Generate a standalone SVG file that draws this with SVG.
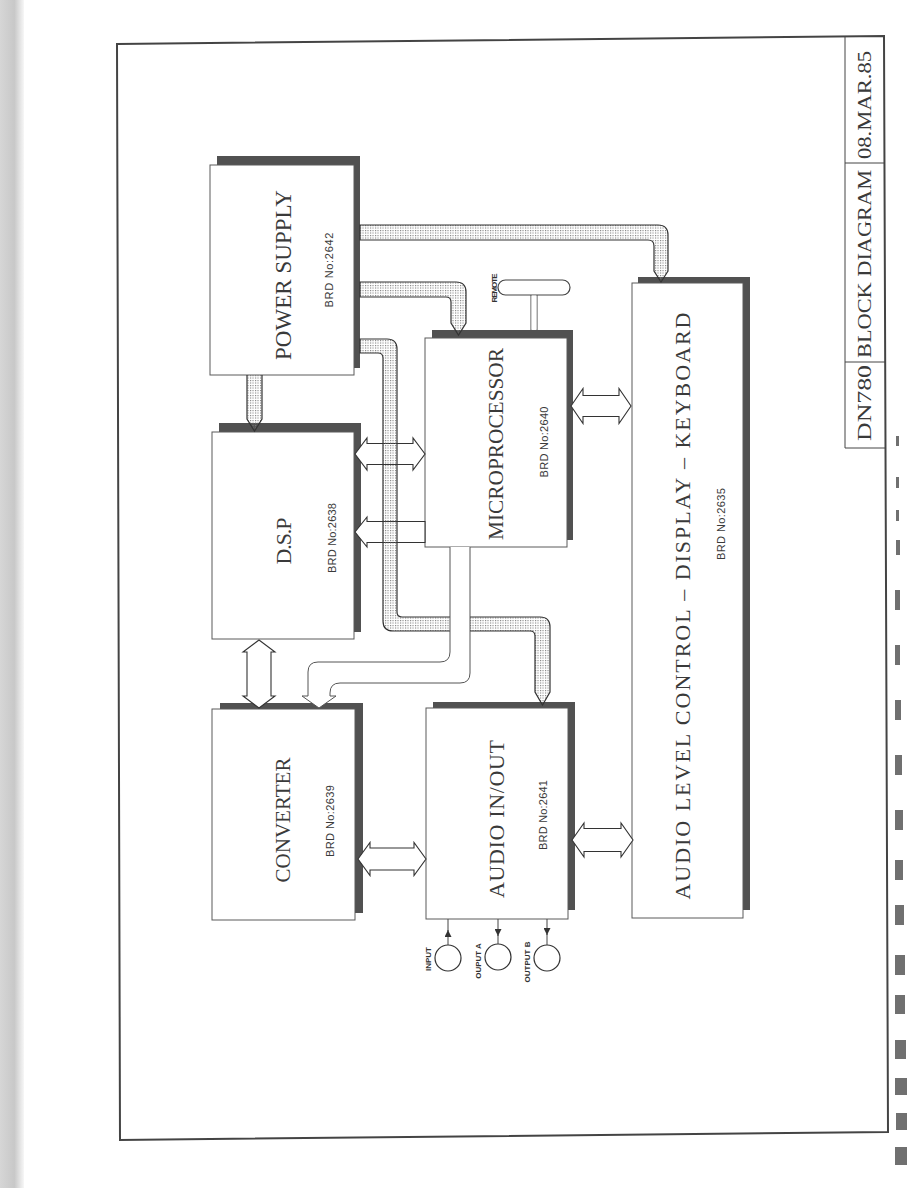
<svg xmlns="http://www.w3.org/2000/svg" width="918" height="1188" viewBox="0 0 918 1188">
<style>
  .shadow{fill:#515151}
  .box{fill:#fff;stroke:#5a5a5a;stroke-width:1}
  .ttl{font-family:"Liberation Serif","Times New Roman",serif;font-size:22px;fill:#3a3a3a;text-anchor:middle}
  .brd{font-family:"Liberation Sans",Arial,sans-serif;font-size:11px;fill:#3a3a3a;text-anchor:middle}
  .small{font-family:"Liberation Sans",Arial,sans-serif;font-size:8px;font-weight:bold;fill:#333;text-anchor:middle}
  .tb{font-family:"Liberation Serif","Times New Roman",serif;font-size:18px;fill:#3a3a3a;text-anchor:middle}
  .band{fill:url(#stip);stroke:#333;stroke-width:1.2}
  .hollow{fill:#fff;stroke:#333;stroke-width:1.1}
  .thin{fill:none;stroke:#444;stroke-width:1}
  .frame{fill:none;stroke:#444;stroke-width:2}
  .mark{fill:#707070}
</style>
<defs>
  <pattern id="stip" width="2.5" height="2.5" patternUnits="userSpaceOnUse">
    <rect width="1.1" height="1.1" fill="#7a7a7a"/>
  </pattern>
  <marker id="tri" viewBox="0 0 10 10" refX="10" refY="5" markerWidth="7" markerHeight="7" orient="auto" markerUnits="userSpaceOnUse">
    <path d="M0,0 L10,5 L0,10 Z" fill="#333"/>
  </marker>
  <linearGradient id="edge" x1="0" x2="1" y1="0" y2="0">
    <stop offset="0" stop-color="#d6d6d6"/>
    <stop offset="0.6" stop-color="#c8c8c8"/>
    <stop offset="1" stop-color="#f7f7f7"/>
  </linearGradient>
</defs>

<rect width="918" height="1188" fill="#fff"/>

<g id="page-artifacts">
  <rect x="0" y="0" width="24" height="1188" fill="url(#edge)"/>
  <rect x="896" y="436" width="3" height="10" class="mark"/>
  <rect x="896" y="477" width="3" height="11" class="mark"/>
  <rect x="896" y="510" width="3" height="11" class="mark"/>
  <rect x="896" y="540" width="4" height="15" class="mark"/>
  <rect x="895" y="590" width="5" height="20" class="mark"/>
  <rect x="895" y="645" width="5" height="20" class="mark"/>
  <rect x="895" y="700" width="6" height="20" class="mark"/>
  <rect x="895" y="755" width="7" height="20" class="mark"/>
  <rect x="895" y="810" width="8" height="20" class="mark"/>
  <rect x="895" y="860" width="8" height="20" class="mark"/>
  <rect x="895" y="905" width="9" height="20" class="mark"/>
  <rect x="895" y="955" width="10" height="20" class="mark"/>
  <rect x="895" y="995" width="10" height="19" class="mark"/>
  <rect x="895" y="1040" width="11" height="19" class="mark"/>
  <rect x="895" y="1078" width="12" height="17" class="mark"/>
  <rect x="896" y="1113" width="11" height="17" class="mark"/>
  <rect x="895" y="1147" width="12" height="18" class="mark"/>
</g>

<g id="frame">
  <path class="frame" d="M117,44 L884,36 L888,1132 L120,1140 Z"/>
</g>

<g id="title-block">
  <path class="thin" d="M845,37 V448 H885 M845,163 H884 M845,362 H885" stroke-width="1.4"/>
  <text class="tb" transform="translate(871,105) rotate(-90)" textLength="108" lengthAdjust="spacingAndGlyphs">08.MAR.85</text>
  <text class="tb" transform="translate(871,264) rotate(-90)" textLength="188" lengthAdjust="spacingAndGlyphs">BLOCK DIAGRAM</text>
  <text class="tb" transform="translate(871,403) rotate(-90)" textLength="76" lengthAdjust="spacingAndGlyphs">DN780</text>
</g>

<g id="power-supply">
  <rect class="shadow" x="217" y="156" width="143" height="212"/>
  <rect class="box" x="210" y="165" width="144" height="210"/>
  <text class="ttl" transform="translate(291,275) rotate(-90)" textLength="170" style="font-size:23px">POWER SUPPLY</text>
  <text class="brd" transform="translate(333,270) rotate(-90)" textLength="75">BRD No:2642</text>
</g>

<g id="dsp">
  <rect class="shadow" x="219" y="423" width="142" height="209"/>
  <rect class="box" x="212" y="432" width="142" height="207"/>
  <text class="ttl" transform="translate(291,541) rotate(-90)" textLength="47">D.S.P</text>
  <text class="brd" transform="translate(336,538) rotate(-90)" textLength="70">BRD No:2638</text>
</g>

<g id="microprocessor">
  <rect class="shadow" x="432" y="330" width="141" height="210"/>
  <rect class="box" x="425" y="338" width="142" height="209"/>
  <text class="ttl" transform="translate(503,444) rotate(-90)" textLength="192" lengthAdjust="spacingAndGlyphs">MICROPROCESSOR</text>
  <text class="brd" transform="translate(548,442) rotate(-90)" textLength="71">BRD No:2640</text>
</g>

<g id="converter">
  <rect class="shadow" x="220" y="703" width="143" height="210"/>
  <rect class="box" x="212" y="709" width="143" height="211"/>
  <text class="ttl" transform="translate(290,820) rotate(-90)" textLength="125" lengthAdjust="spacingAndGlyphs">CONVERTER</text>
  <text class="brd" transform="translate(334,821) rotate(-90)" textLength="72">BRD No:2639</text>
</g>

<g id="audio-in-out">
  <rect class="shadow" x="433" y="702" width="142" height="208"/>
  <rect class="box" x="426" y="708" width="142" height="211"/>
  <text class="ttl" transform="translate(504,819) rotate(-90)" textLength="158">AUDIO IN/OUT</text>
  <text class="brd" transform="translate(547,815) rotate(-90)" textLength="70">BRD No:2641</text>
</g>

<g id="audio-level-control">
  <rect class="shadow" x="638" y="277" width="112" height="633"/>
  <rect class="box" x="632" y="283" width="111" height="635"/>
  <text class="ttl" transform="translate(690,606) rotate(-90)" textLength="587">AUDIO LEVEL CONTROL  –  DISPLAY  –  KEYBOARD</text>
  <text class="brd" transform="translate(725,524) rotate(-90)" textLength="72">BRD No:2635</text>
</g>

<g id="remote">
  <rect x="498" y="280" width="72" height="15" rx="7.5" fill="#fff" stroke="#444" stroke-width="1.2"/>
  <text class="small" transform="translate(497,288) rotate(-90)" textLength="29">REMOTE</text>
</g>

<g id="io-input">
  <circle cx="448" cy="958" r="13" fill="#fff" stroke="#333" stroke-width="1.2"/>
  <text class="small" transform="translate(431,959) rotate(-90)">INPUT</text>
</g>
<g id="io-output-a">
  <circle cx="498" cy="957" r="13" fill="#fff" stroke="#333" stroke-width="1.2"/>
  <text class="small" transform="translate(481,961) rotate(-90)">OUPUT A</text>
</g>
<g id="io-output-b">
  <circle cx="547" cy="958" r="13" fill="#fff" stroke="#333" stroke-width="1.2"/>
  <text class="small" transform="translate(530,962) rotate(-90)">OUTPUT B</text>
</g>

<g id="connectors">
  <path class="hollow" d="M355,454 L367,438 V443.5 H413 V438 L425,454 L413,470 V464.5 H367 V470 Z"/>
  <path class="hollow" d="M355,532 L367,517 V521.5 H425 V542.5 H367 V547 Z"/>
  <path class="hollow" d="M571,406 L583,388.5 V395.5 H619 V388.5 L631,406 L619,423.5 V416.5 H583 V423.5 Z"/>
  <path class="hollow" d="M358,859 L370,842.5 V848 H414 V842.5 L426,859 L414,875.5 V870 H370 V875.5 Z"/>
  <path class="hollow" d="M572,840 L584,823 V828.5 H621 V823 L633,840 L621,857 V851.5 H584 V857 Z"/>
  <path class="hollow" d="M259,640 L275,652 H271 V696 H275 L259,708 L243,696 H247 V652 H243 Z"/>

  <path class="band" d="M360,225 H658 Q668,225 668,235 V271 L661,282 L654,271 V246 Q654,240 648,240 H360 Z"/>
  <path class="band" d="M360,282 H456 Q466,282 466,292 V323 L458.5,335 L451,323 V302 Q451,297 446,297 H360 Z"/>
  <path class="band" d="M360,339 H387 Q397,339 397,349 V612 Q397,617 402,617 H540 Q550,617 550,627 V692 L542.5,705 L535,692 V636 Q535,631 530,631 H393 Q383,631 383,621 V358 Q383,353 378,353 H360 Z"/>
  <path class="band" d="M247,375 V419 L254.5,431 L262,419 V375"/>

  <path d="M450,547 V652 Q450,662 440,662 H318 Q308,662 308,672 V696 L302,696 L319,708 L336,696 L330,696 V693 Q330,683 340,683 H460 Q470,683 470,673 V547" fill="#fff" stroke="#555" stroke-width="1"/>

  <path d="M531,295 V330 M537,295 V330" class="thin"/>
  <rect x="531.5" y="295.6" width="5" height="34" fill="#fff"/>

  <path class="thin" d="M448,945 V930" marker-end="url(#tri)"/>
  <path class="thin" d="M448,931 V919"/>
  <path class="thin" d="M498,919 V936" marker-end="url(#tri)"/>
  <path class="thin" d="M498,935 V944"/>
  <path class="thin" d="M547,919 V935" marker-end="url(#tri)"/>
  <path class="thin" d="M547,934 V945"/>
</g>
</svg>
